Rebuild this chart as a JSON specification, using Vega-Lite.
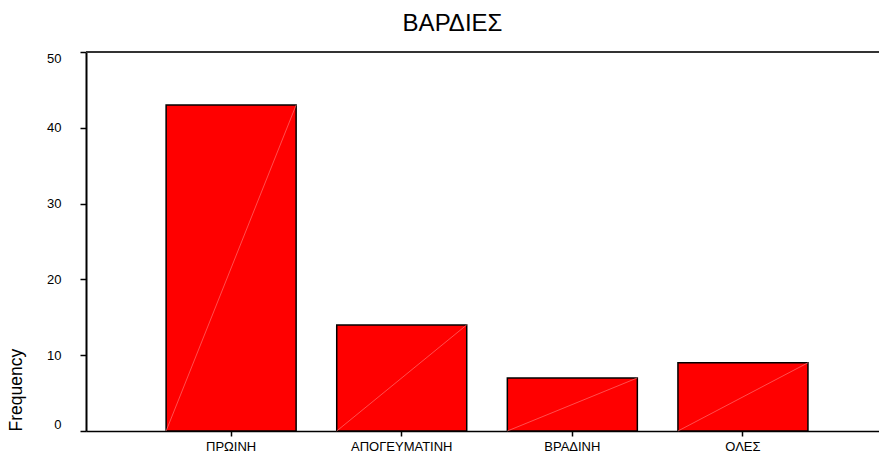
{
  "$schema": "https://vega.github.io/schema/vega-lite/v6.json",
  "autosize": {"type": "none"},
  "width": 793,
  "height": 379,
  "padding": {"left": 86, "top": 52, "right": 0, "bottom": 24},
  "background": "white",
  "config": {
    "view": {"stroke": null},
    "font": "Liberation Sans"
  },
  "title": {
    "text": "ΒΑΡΔΙΕΣ",
    "fontSize": 24,
    "fontWeight": "normal",
    "font": "Liberation Sans",
    "color": "#000000",
    "anchor": "middle",
    "dx": -30,
    "offset": 15
  },
  "data": {
    "values": [
      {"shift": "ΠΡΩΙΝΗ", "count": 43},
      {"shift": "ΑΠΟΓΕΥΜΑΤΙΝΗ", "count": 14},
      {"shift": "ΒΡΑΔΙΝΗ", "count": 7},
      {"shift": "ΟΛΕΣ", "count": 9}
    ]
  },
  "layer": [
    {
      "mark": {"type": "bar", "color": "#ff0000", "stroke": "#000000", "strokeWidth": 1.5},
      "encoding": {
        "x": {
          "field": "shift",
          "type": "nominal",
          "sort": null,
          "scale": {"paddingInner": 0.238, "paddingOuter": 0.443, "align": 0.53},
          "axis": {
            "title": null,
            "labelAngle": 0,
            "labelFontSize": 13,
            "labelColor": "#000000",
            "labelPadding": 4,
            "tickSize": 5,
            "tickColor": "#000000",
            "tickWidth": 1.5,
            "domainColor": "#000000",
            "domainWidth": 1.5,
            "grid": false
          }
        },
        "y": {
          "field": "count",
          "type": "quantitative",
          "scale": {"domain": [0, 50], "nice": false},
          "axis": {
            "title": "Frequency",
            "titleFontSize": 17.5,
            "titleFontWeight": "normal",
            "titleColor": "#000000",
            "titleAngle": -90,
            "titleX": -70,
            "titleY": 379,
            "titleAlign": "left",
            "titleBaseline": "middle",
            "values": [0, 10, 20, 30, 40, 50],
            "labelFontSize": 13,
            "labelColor": "#000000",
            "labelPadding": 19,
            "labelFlush": true,
            "tickSize": 6,
            "tickColor": "#000000",
            "tickWidth": 1.5,
            "domainColor": "#000000",
            "domainWidth": 2,
            "grid": false
          }
        }
      }
    },
    {
      "mark": {"type": "rule", "stroke": "#333333", "strokeWidth": 2},
      "encoding": {"y": {"datum": 50, "type": "quantitative"}}
    },
    {
      "mark": {
        "type": "rule",
        "stroke": "#ff7070",
        "strokeWidth": 0.7
      },
      "encoding": {
        "x": {"field": "shift", "type": "nominal", "sort": null, "bandPosition": 1},
        "x2": {"field": "shift", "bandPosition": 0},
        "y": {"field": "count", "type": "quantitative"},
        "y2": {"datum": 0}
      }
    }
  ]
}
